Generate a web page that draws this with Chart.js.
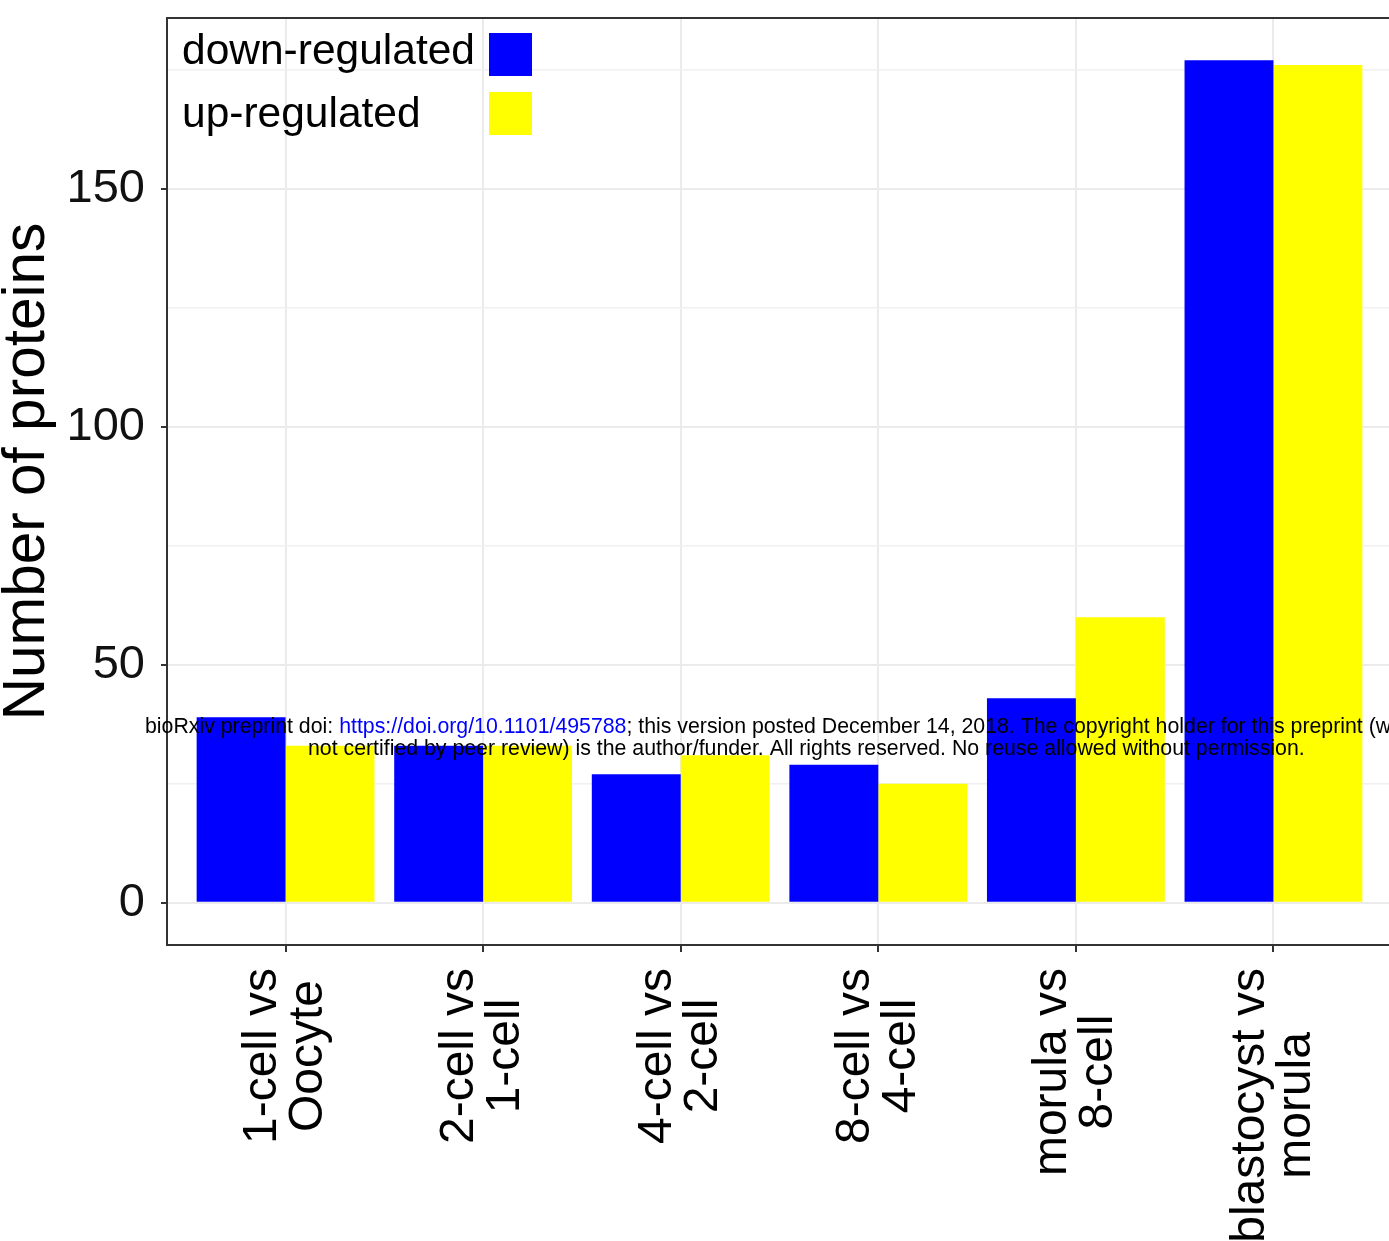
<!DOCTYPE html>
<html>
<head>
<meta charset="utf-8">
<script src="https://cdn.jsdelivr.net/npm/chart.js@4/dist/chart.umd.min.js"></script>
<style>
  html, body { margin: 0; padding: 0; background: #ffffff; overflow: hidden; }
  #wrap { position: relative; width: 1392px; height: 1241px; }
</style>
</head>
<body>
<div id="wrap"><canvas id="chart" width="1392" height="1241"></canvas></div>
<script>
// Comparisons between consecutive developmental stages
const categories = [
  ['1-cell vs', 'Oocyte'],
  ['2-cell vs', '1-cell'],
  ['4-cell vs', '2-cell'],
  ['8-cell vs', '4-cell'],
  ['morula vs', '8-cell'],
  ['blastocyst vs', 'morula']
];
const seriesNames = ['down-regulated', 'up-regulated'];
const seriesColors = ['#0000ff', '#ffff00'];

// Number of differentially expressed proteins per comparison
const downRegulated = [39, 33, 27, 29, 43, 177];
const upRegulated = [33, 33, 31, 25, 60, 176];

// Axis ticks: every value gets a grid line, only some get a label
const yTickValues = [0, 25, 50, 75, 100, 125, 150, 175];
const yLabelledTicks = [0, 50, 100, 150];
const yLimits = [-8.85, 185.85];
const xLimits = [0.4, 6.6];

const yTitle = 'Number of proteins';

// Preprint notice printed across the figure
const noticeLine1 = [
  ['bioRxiv preprint doi: ', '#000000'],
  ['https://doi.org/10.1101/495788', '#0000ff'],
  ['; this version posted December 14, 2018. The copyright holder for this preprint (which was', '#000000']
];
const noticeLine2 = 'not certified by peer review) is the author/funder. All rights reserved. No reuse allowed without permission.';

const FONT = "'Liberation Sans', Arial, Helvetica, sans-serif";

const toPoints = (arr) => arr.map((v, i) => ({ x: i + 1, y: v }));

// Panel border drawn on top of grid and bars
const panelFrame = {
  id: 'panelFrame',
  afterDatasetsDraw(chart, args, opts) {
    const { ctx, chartArea: a } = chart;
    ctx.save();
    ctx.strokeStyle = opts.color;
    ctx.lineWidth = opts.width;
    ctx.strokeRect(a.left, a.top, a.right - a.left, a.bottom - a.top);
    ctx.restore();
  }
};

// Legend inside the panel: label on the left, colour key on the right
const insideLegend = {
  id: 'insideLegend',
  afterDatasetsDraw(chart, args, o) {
    const { ctx, chartArea: a } = chart;
    ctx.save();
    ctx.font = `${o.size}px ${FONT}`;
    ctx.textAlign = 'left';
    ctx.textBaseline = 'alphabetic';
    chart.data.datasets.forEach((ds, i) => {
      const top = a.top + o.top + i * o.step;
      ctx.fillStyle = ds.backgroundColor;
      ctx.fillRect(a.left + o.keyX, top, o.key, o.key);
      ctx.fillStyle = o.color;
      ctx.fillText(ds.label, a.left + o.textX, top + o.baseline[i]);
    });
    ctx.restore();
  }
};

// Two-line category labels, rotated, lines centred within the block
const categoryLabels = {
  id: 'categoryLabels',
  afterDraw(chart, args, o) {
    const { ctx, chartArea } = chart;
    const xs = chart.scales.x;
    ctx.save();
    ctx.font = `${o.size}px ${FONT}`;
    ctx.fillStyle = o.color;
    ctx.textAlign = 'center';
    ctx.textBaseline = 'middle';
    categories.forEach((lines, i) => {
      const px = xs.getPixelForValue(i + 1);
      const w = Math.max(...lines.map(l => ctx.measureText(l).width));
      const cy = chartArea.bottom + o.gap + w / 2;
      ctx.save();
      ctx.translate(px, cy);
      ctx.rotate(-Math.PI / 2);
      lines.forEach((l, k) => ctx.fillText(l, 0, (k - (lines.length - 1) / 2) * o.lineHeight));
      ctx.restore();
    });
    ctx.restore();
  }
};

// Vertical axis title
const axisTitle = {
  id: 'axisTitle',
  afterDraw(chart, args, o) {
    const { ctx, chartArea } = chart;
    ctx.save();
    ctx.font = `${o.size}px ${FONT}`;
    ctx.fillStyle = o.color;
    ctx.textAlign = 'center';
    ctx.textBaseline = 'alphabetic';
    ctx.translate(o.baselineX, (chartArea.top + chartArea.bottom) / 2 + o.shift);
    ctx.rotate(-Math.PI / 2);
    ctx.fillText(yTitle, 0, 0);
    ctx.restore();
  }
};

// Preprint notice
const notice = {
  id: 'notice',
  afterDraw(chart, args, o) {
    const { ctx } = chart;
    ctx.save();
    ctx.font = `${o.size}px ${FONT}`;
    ctx.textBaseline = 'alphabetic';
    ctx.textAlign = 'left';
    let x = o.x1;
    noticeLine1.forEach(([txt, col]) => {
      ctx.fillStyle = col;
      ctx.fillText(txt, x, o.y1);
      x += ctx.measureText(txt).width;
    });
    ctx.fillStyle = '#000000';
    ctx.fillText(noticeLine2, o.x2, o.y2);
    ctx.restore();
  }
};

const isLabelled = (v) => yLabelledTicks.includes(v);

new Chart(document.getElementById('chart'), {
  type: 'bar',
  data: {
    datasets: [
      { label: seriesNames[0], data: toPoints(downRegulated), backgroundColor: seriesColors[0], borderWidth: 0 },
      { label: seriesNames[1], data: toPoints(upRegulated), backgroundColor: seriesColors[1], borderWidth: 0 }
    ]
  },
  options: {
    responsive: false,
    animation: false,
    devicePixelRatio: 1,
    layout: { padding: { top: 18, right: 0, bottom: 0, left: 0 } },
    datasets: { bar: { barPercentage: 1.0, categoryPercentage: 0.9 } },
    plugins: {
      legend: { display: false },
      tooltip: { enabled: false },
      panelFrame: { color: '#333333', width: 2 },
      insideLegend: { size: 42.5, color: '#000000', top: 15, step: 59, key: 43, keyX: 322, textX: 15, baseline: [30.5, 34.5] },
      categoryLabels: { size: 48, color: '#000000', gap: 23, lineHeight: 46 },
      axisTitle: { size: 58.5, color: '#000000', baselineX: 43.5, shift: -10 },
      notice: { size: 21.3, x1: 145, y1: 733, x2: 308, y2: 755 }
    },
    scales: {
      x: {
        type: 'linear',
        offset: false,
        min: xLimits[0],
        max: xLimits[1],
        afterBuildTicks: (scale) => { scale.ticks = categories.map((_, i) => ({ value: i + 1 })); },
        afterFit: (scale) => { scale.height = 296; scale.paddingLeft = 0; scale.paddingRight = 0; },
        ticks: { display: false },
        border: { display: false },
        grid: { offset: false, color: '#ebebeb', lineWidth: 2, tickColor: '#333333', tickWidth: 2, tickLength: 7 }
      },
      y: {
        min: yLimits[0],
        max: yLimits[1],
        afterBuildTicks: (scale) => { scale.ticks = yTickValues.map(v => ({ value: v })); },
        afterFit: (scale) => { scale.width = 167; scale.paddingTop = 0; scale.paddingBottom = 0; },
        border: { display: false },
        grid: {
          color: (c) => isLabelled(c.tick.value) ? '#ebebeb' : '#f0f0f0',
          lineWidth: (c) => isLabelled(c.tick.value) ? 2 : 1.5,
          tickColor: (c) => isLabelled(c.tick.value) ? '#333333' : 'rgba(0,0,0,0)',
          tickWidth: 2,
          tickLength: 6
        },
        ticks: {
          padding: 16,
          color: '#111111',
          font: { size: 47, family: FONT },
          callback: (v) => isLabelled(v) ? String(v) : ''
        },
        title: { display: false }
      }
    }
  },
  plugins: [panelFrame, insideLegend, categoryLabels, axisTitle, notice]
});
</script>
</body>
</html>
